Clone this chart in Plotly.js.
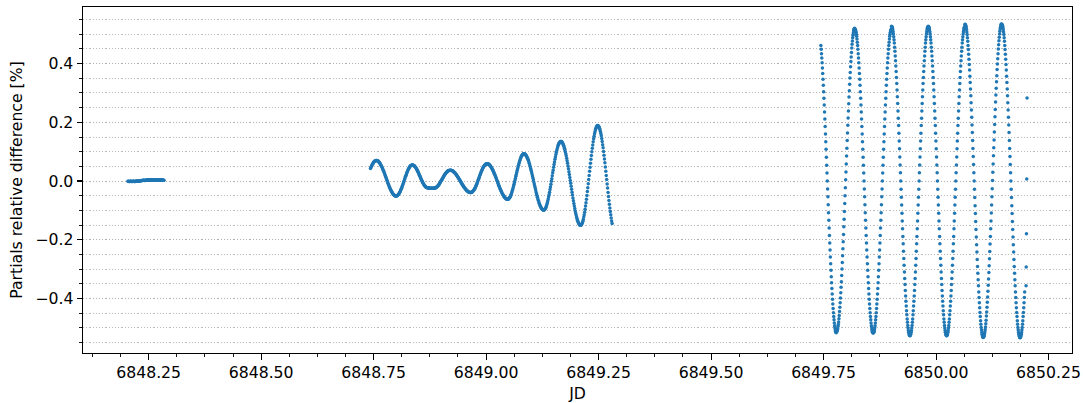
<!DOCTYPE html>
<html>
<head>
<meta charset="utf-8">
<script src="https://cdn.plot.ly/plotly-3.0.1.min.js"></script>
<style>html,body{margin:0;padding:0;background:#fff;}#chart{width:1083px;height:403px;}</style>
</head>
<body>
<div id="chart"></div>
<script>
// ---- data ----
const xTickVals = [6848.25, 6848.5, 6848.75, 6849.0, 6849.25, 6849.5, 6849.75, 6850.0, 6850.25];
const xTickText = ['6848.25','6848.50','6848.75','6849.00','6849.25','6849.50','6849.75','6850.00','6850.25'];
const yTickVals = [-0.4, -0.2, 0, 0.2, 0.4];
const yTickText = ['\u22120.4','\u22120.2','0.0','0.2','0.4'];

// first block (flat, near zero)
const seg1Jd = [
6848.204,6848.205,6848.206,6848.207,6848.208,6848.209,
6848.210,6848.211,6848.212,6848.213,6848.214,6848.215,6848.216,6848.217,6848.218,6848.219,
6848.220,6848.221,6848.222,6848.223,6848.224,6848.225,6848.226,6848.227,6848.228,6848.229,
6848.230,6848.231,6848.232,6848.233,6848.234,6848.235,6848.236,6848.237,6848.238,6848.239,
6848.240,6848.241,6848.242,6848.243,6848.244,6848.245,6848.246,6848.247,6848.248,6848.249,
6848.250,6848.251,6848.252,6848.253,6848.254,6848.255,6848.256,6848.257,6848.258,6848.259,
6848.260,6848.261,6848.262,6848.263,6848.264,6848.265,6848.266,6848.267,6848.268,6848.269,
6848.270,6848.271,6848.272,6848.273,6848.274,6848.275,6848.276,6848.277,6848.278,6848.279,
6848.280,6848.281,6848.282,6848.283,6848.284];
const seg1Diff = [
-.001,-.001,-.002,-.002,-.002,-.001,
-.001,-.001,-.002,-.002,-.002,-.001,-.001,-.001,-.002,-.002,
-.002,-.001,-.001,0,0,-.001,-.001,-.001,-.001,0,
0,.001,.001,.001,.002,.002,.002,.002,.003,.003,
.003,.002,.002,.003,.003,.003,.003,.003,.004,.004,
.004,.003,.003,.003,.003,.004,.004,.004,.003,.003,
.003,.003,.003,.004,.004,.004,.004,.003,.003,.003,
.003,.004,.004,.004,.003,.003,.003,.004,.004,.004,
.004,.003,.003,.003,.003];

// second block (growing oscillation)
const seg2Jd = [
6848.743,6848.744,6848.745,6848.746,6848.747,6848.748,6848.749,
6848.750,6848.751,6848.752,6848.753,6848.754,6848.755,6848.756,6848.757,6848.758,6848.759,
6848.760,6848.761,6848.762,6848.763,6848.764,6848.765,6848.766,6848.767,6848.768,6848.769,
6848.770,6848.771,6848.772,6848.773,6848.774,6848.775,6848.776,6848.777,6848.778,6848.779,
6848.780,6848.781,6848.782,6848.783,6848.784,6848.785,6848.786,6848.787,6848.788,6848.789,
6848.790,6848.791,6848.792,6848.793,6848.794,6848.795,6848.796,6848.797,6848.798,6848.799,
6848.800,6848.801,6848.802,6848.803,6848.804,6848.805,6848.806,6848.807,6848.808,6848.809,
6848.810,6848.811,6848.812,6848.813,6848.814,6848.815,6848.816,6848.817,6848.818,6848.819,
6848.820,6848.821,6848.822,6848.823,6848.824,6848.825,6848.826,6848.827,6848.828,6848.829,
6848.830,6848.831,6848.832,6848.833,6848.834,6848.835,6848.836,6848.837,6848.838,6848.839,
6848.840,6848.841,6848.842,6848.843,6848.844,6848.845,6848.846,6848.847,6848.848,6848.849,
6848.850,6848.851,6848.852,6848.853,6848.854,6848.855,6848.856,6848.857,6848.858,6848.859,
6848.860,6848.861,6848.862,6848.863,6848.864,6848.865,6848.866,6848.867,6848.868,6848.869,
6848.870,6848.871,6848.872,6848.873,6848.874,6848.875,6848.876,6848.877,6848.878,6848.879,
6848.880,6848.881,6848.882,6848.883,6848.884,6848.885,6848.886,6848.887,6848.888,6848.889,
6848.890,6848.891,6848.892,6848.893,6848.894,6848.895,6848.896,6848.897,6848.898,6848.899,
6848.900,6848.901,6848.902,6848.903,6848.904,6848.905,6848.906,6848.907,6848.908,6848.909,
6848.910,6848.911,6848.912,6848.913,6848.914,6848.915,6848.916,6848.917,6848.918,6848.919,
6848.920,6848.921,6848.922,6848.923,6848.924,6848.925,6848.926,6848.927,6848.928,6848.929,
6848.930,6848.931,6848.932,6848.933,6848.934,6848.935,6848.936,6848.937,6848.938,6848.939,
6848.940,6848.941,6848.942,6848.943,6848.944,6848.945,6848.946,6848.947,6848.948,6848.949,
6848.950,6848.951,6848.952,6848.953,6848.954,6848.955,6848.956,6848.957,6848.958,6848.959,
6848.960,6848.961,6848.962,6848.963,6848.964,6848.965,6848.966,6848.967,6848.968,6848.969,
6848.970,6848.971,6848.972,6848.973,6848.974,6848.975,6848.976,6848.977,6848.978,6848.979,
6848.980,6848.981,6848.982,6848.983,6848.984,6848.985,6848.986,6848.987,6848.988,6848.989,
6848.990,6848.991,6848.992,6848.993,6848.994,6848.995,6848.996,6848.997,6848.998,6848.999,
6849.000,6849.001,6849.002,6849.003,6849.004,6849.005,6849.006,6849.007,6849.008,6849.009,
6849.010,6849.011,6849.012,6849.013,6849.014,6849.015,6849.016,6849.017,6849.018,6849.019,
6849.020,6849.021,6849.022,6849.023,6849.024,6849.025,6849.026,6849.027,6849.028,6849.029,
6849.030,6849.031,6849.032,6849.033,6849.034,6849.035,6849.036,6849.037,6849.038,6849.039,
6849.040,6849.041,6849.042,6849.043,6849.044,6849.045,6849.046,6849.047,6849.048,6849.049,
6849.050,6849.051,6849.052,6849.053,6849.054,6849.055,6849.056,6849.057,6849.058,6849.059,
6849.060,6849.061,6849.062,6849.063,6849.064,6849.065,6849.066,6849.067,6849.068,6849.069,
6849.070,6849.071,6849.072,6849.073,6849.074,6849.075,6849.076,6849.077,6849.078,6849.079,
6849.080,6849.081,6849.082,6849.083,6849.084,6849.085,6849.086,6849.087,6849.088,6849.089,
6849.090,6849.091,6849.092,6849.093,6849.094,6849.095,6849.096,6849.097,6849.098,6849.099,
6849.100,6849.101,6849.102,6849.103,6849.104,6849.105,6849.106,6849.107,6849.108,6849.109,
6849.110,6849.111,6849.112,6849.113,6849.114,6849.115,6849.116,6849.117,6849.118,6849.119,
6849.120,6849.121,6849.122,6849.123,6849.124,6849.125,6849.126,6849.127,6849.128,6849.129,
6849.130,6849.131,6849.132,6849.133,6849.134,6849.135,6849.136,6849.137,6849.138,6849.139,
6849.140,6849.141,6849.142,6849.143,6849.144,6849.145,6849.146,6849.147,6849.148,6849.149,
6849.150,6849.151,6849.152,6849.153,6849.154,6849.155,6849.156,6849.157,6849.158,6849.159,
6849.160,6849.161,6849.162,6849.163,6849.164,6849.165,6849.166,6849.167,6849.168,6849.169,
6849.170,6849.171,6849.172,6849.173,6849.174,6849.175,6849.176,6849.177,6849.178,6849.179,
6849.180,6849.181,6849.182,6849.183,6849.184,6849.185,6849.186,6849.187,6849.188,6849.189,
6849.190,6849.191,6849.192,6849.193,6849.194,6849.195,6849.196,6849.197,6849.198,6849.199,
6849.200,6849.201,6849.202,6849.203,6849.204,6849.205,6849.206,6849.207,6849.208,6849.209,
6849.210,6849.211,6849.212,6849.213,6849.214,6849.215,6849.216,6849.217,6849.218,6849.219,
6849.220,6849.221,6849.222,6849.223,6849.224,6849.225,6849.226,6849.227,6849.228,6849.229,
6849.230,6849.231,6849.232,6849.233,6849.234,6849.235,6849.236,6849.237,6849.238,6849.239,
6849.240,6849.241,6849.242,6849.243,6849.244,6849.245,6849.246,6849.247,6849.248,6849.249,
6849.250,6849.251,6849.252,6849.253,6849.254,6849.255,6849.256,6849.257,6849.258,6849.259,
6849.260,6849.261,6849.262,6849.263,6849.264,6849.265,6849.266,6849.267,6849.268,6849.269,
6849.270,6849.271,6849.272,6849.273,6849.274,6849.275,6849.276,6849.277,6849.278,6849.279,
6849.280];
const seg2Diff = [
.043,.046,.050,.053,.056,.059,.061,
.064,.066,.067,.068,.069,.070,.070,.070,.069,.069,
.068,.066,.065,.063,.060,.058,.055,.052,.049,.046,
.042,.038,.035,.031,.027,.022,.018,.014,.010,.005,
.001,-.003,-.008,-.012,-.016,-.020,-.023,-.027,-.030,-.033,
-.036,-.039,-.041,-.044,-.046,-.047,-.049,-.050,-.050,-.051,
-.051,-.051,-.050,-.049,-.048,-.046,-.044,-.041,-.039,-.036,
-.032,-.028,-.025,-.020,-.016,-.012,-.007,-.003,.002,.007,
.011,.016,.020,.024,.029,.032,.036,.040,.043,.045,
.048,.050,.052,.053,.054,.055,.055,.055,.054,.053,
.052,.051,.049,.047,.045,.042,.040,.037,.033,.030,
.027,.023,.020,.016,.012,.009,.005,.002,-.001,-.005,
-.008,-.010,-.013,-.015,-.017,-.019,-.020,-.022,-.022,-.023,
-.023,-.023,-.024,-.024,-.024,-.025,-.025,-.025,-.025,-.025,
-.025,-.025,-.025,-.025,-.025,-.025,-.024,-.024,-.023,-.022,
-.021,-.019,-.018,-.016,-.014,-.012,-.010,-.007,-.005,-.002,
.001,.003,.006,.009,.011,.014,.017,.019,.022,.024,
.026,.028,.030,.031,.033,.034,.035,.036,.036,.037,
.037,.037,.037,.036,.036,.035,.034,.033,.031,.030,
.028,.027,.025,.023,.021,.019,.016,.014,.012,.009,
.007,.004,.002,-.001,-.004,-.006,-.009,-.011,-.014,-.016,
-.019,-.021,-.023,-.025,-.027,-.029,-.031,-.032,-.034,-.035,
-.036,-.037,-.038,-.038,-.039,-.039,-.039,-.039,-.038,-.037,
-.036,-.034,-.032,-.030,-.028,-.025,-.022,-.018,-.015,-.011,
-.007,-.003,.002,.006,.010,.014,.019,.023,.027,.031,
.035,.038,.042,.045,.048,.050,.052,.054,.056,.057,
.058,.059,.059,.059,.058,.058,.057,.056,.054,.052,
.050,.048,.045,.043,.040,.037,.033,.030,.026,.023,
.019,.015,.011,.007,.003,-.002,-.006,-.010,-.014,-.018,
-.022,-.026,-.029,-.033,-.036,-.040,-.043,-.046,-.048,-.051,
-.053,-.055,-.057,-.059,-.060,-.061,-.061,-.062,-.062,-.062,
-.061,-.059,-.057,-.055,-.052,-.048,-.044,-.039,-.034,-.029,
-.023,-.017,-.011,-.005,.002,.009,.016,.022,.029,.036,
.042,.048,.054,.060,.065,.070,.075,.079,.083,.086,
.088,.090,.092,.093,.093,.093,.092,.091,.089,.087,
.084,.081,.078,.074,.070,.065,.060,.055,.049,.043,
.037,.031,.024,.017,.011,.004,-.003,-.010,-.017,-.023,
-.030,-.037,-.043,-.049,-.055,-.061,-.066,-.071,-.076,-.080,
-.084,-.087,-.090,-.093,-.095,-.097,-.098,-.099,-.099,-.099,
-.097,-.095,-.093,-.089,-.085,-.080,-.074,-.068,-.061,-.054,
-.046,-.038,-.029,-.020,-.011,-.001,.008,.018,.028,.037,
.047,.056,.065,.074,.082,.090,.097,.104,.110,.116,
.121,.125,.129,.131,.133,.135,.135,.135,.134,.132,
.129,.126,.122,.118,.112,.107,.100,.093,.086,.078,
.069,.061,.051,.042,.032,.022,.012,.002,-.008,-.018,
-.028,-.038,-.048,-.058,-.067,-.077,-.085,-.094,-.102,-.109,
-.116,-.123,-.128,-.134,-.138,-.142,-.145,-.148,-.150,-.151,
-.151,-.150,-.149,-.146,-.142,-.137,-.131,-.123,-.115,-.106,
-.096,-.085,-.074,-.062,-.049,-.036,-.023,-.009,.005,.019,
.033,.047,.061,.074,.087,.100,.112,.123,.134,.144,
.153,.161,.168,.175,.180,.184,.187,.188,.189,.188,
.187,.184,.180,.175,.169,.162,.154,.145,.135,.124,
.113,.101,.088,.075,.062,.048,.033,.019,.005,-.010,
-.024,-.039,-.053,-.066,-.079,-.092,-.104,-.115,-.126,-.136,
-.145];

// third block (large oscillation, sparser dots)
const seg3Jd = [
6849.744,6849.74468,6849.74536,6849.74604,6849.74672,6849.7474,6849.74808,6849.74876,6849.74944,6849.75012,6849.7508,6849.75148,6849.75216,6849.75284,6849.75352,6849.7542,6849.75488,6849.75556,6849.75624,6849.75692,6849.7576,6849.75828,6849.75896,6849.75964,6849.76032,
6849.761,6849.76168,6849.76236,6849.76304,6849.76372,6849.7644,6849.76508,6849.76576,6849.76644,6849.76712,6849.7678,6849.76848,6849.76916,6849.76984,6849.77052,6849.7712,6849.77188,6849.77256,6849.77324,6849.77392,6849.7746,6849.77528,6849.77596,6849.77664,6849.77732,
6849.778,6849.77868,6849.77936,6849.78004,6849.78072,6849.7814,6849.78208,6849.78276,6849.78344,6849.78412,6849.7848,6849.78548,6849.78616,6849.78684,6849.78752,6849.7882,6849.78888,6849.78956,6849.79024,6849.79092,6849.7916,6849.79228,6849.79296,6849.79364,6849.79432,
6849.795,6849.79568,6849.79636,6849.79704,6849.79772,6849.7984,6849.79908,6849.79976,6849.80044,6849.80112,6849.8018,6849.80248,6849.80316,6849.80384,6849.80452,6849.8052,6849.80588,6849.80656,6849.80724,6849.80792,6849.8086,6849.80928,6849.80996,6849.81064,6849.81132,
6849.812,6849.81268,6849.81336,6849.81404,6849.81472,6849.8154,6849.81608,6849.81676,6849.81744,6849.81812,6849.8188,6849.81948,6849.82016,6849.82084,6849.82152,6849.8222,6849.82288,6849.82356,6849.82424,6849.82492,6849.8256,6849.82628,6849.82696,6849.82764,6849.82832,
6849.829,6849.82968,6849.83036,6849.83104,6849.83172,6849.8324,6849.83308,6849.83376,6849.83444,6849.83512,6849.8358,6849.83648,6849.83716,6849.83784,6849.83852,6849.8392,6849.83988,6849.84056,6849.84124,6849.84192,6849.8426,6849.84328,6849.84396,6849.84464,6849.84532,
6849.846,6849.84668,6849.84736,6849.84804,6849.84872,6849.8494,6849.85008,6849.85076,6849.85144,6849.85212,6849.8528,6849.85348,6849.85416,6849.85484,6849.85552,6849.8562,6849.85688,6849.85756,6849.85824,6849.85892,6849.8596,6849.86028,6849.86096,6849.86164,6849.86232,
6849.863,6849.86368,6849.86436,6849.86504,6849.86572,6849.8664,6849.86708,6849.86776,6849.86844,6849.86912,6849.8698,6849.87048,6849.87116,6849.87184,6849.87252,6849.8732,6849.87388,6849.87456,6849.87524,6849.87592,6849.8766,6849.87728,6849.87796,6849.87864,6849.87932,
6849.88,6849.88068,6849.88136,6849.88204,6849.88272,6849.8834,6849.88408,6849.88476,6849.88544,6849.88612,6849.8868,6849.88748,6849.88816,6849.88884,6849.88952,6849.8902,6849.89088,6849.89156,6849.89224,6849.89292,6849.8936,6849.89428,6849.89496,6849.89564,6849.89632,
6849.897,6849.89768,6849.89836,6849.89904,6849.89972,6849.9004,6849.90108,6849.90176,6849.90244,6849.90312,6849.9038,6849.90448,6849.90516,6849.90584,6849.90652,6849.9072,6849.90788,6849.90856,6849.90924,6849.90992,6849.9106,6849.91128,6849.91196,6849.91264,6849.91332,
6849.914,6849.91468,6849.91536,6849.91604,6849.91672,6849.9174,6849.91808,6849.91876,6849.91944,6849.92012,6849.9208,6849.92148,6849.92216,6849.92284,6849.92352,6849.9242,6849.92488,6849.92556,6849.92624,6849.92692,6849.9276,6849.92828,6849.92896,6849.92964,6849.93032,
6849.931,6849.93168,6849.93236,6849.93304,6849.93372,6849.9344,6849.93508,6849.93576,6849.93644,6849.93712,6849.9378,6849.93848,6849.93916,6849.93984,6849.94052,6849.9412,6849.94188,6849.94256,6849.94324,6849.94392,6849.9446,6849.94528,6849.94596,6849.94664,6849.94732,
6849.948,6849.94868,6849.94936,6849.95004,6849.95072,6849.9514,6849.95208,6849.95276,6849.95344,6849.95412,6849.9548,6849.95548,6849.95616,6849.95684,6849.95752,6849.9582,6849.95888,6849.95956,6849.96024,6849.96092,6849.9616,6849.96228,6849.96296,6849.96364,6849.96432,
6849.965,6849.96568,6849.96636,6849.96704,6849.96772,6849.9684,6849.96908,6849.96976,6849.97044,6849.97112,6849.9718,6849.97248,6849.97316,6849.97384,6849.97452,6849.9752,6849.97588,6849.97656,6849.97724,6849.97792,6849.9786,6849.97928,6849.97996,6849.98064,6849.98132,
6849.982,6849.98268,6849.98336,6849.98404,6849.98472,6849.9854,6849.98608,6849.98676,6849.98744,6849.98812,6849.9888,6849.98948,6849.99016,6849.99084,6849.99152,6849.9922,6849.99288,6849.99356,6849.99424,6849.99492,6849.9956,6849.99628,6849.99696,6849.99764,6849.99832,
6849.999,6849.99968,6850.00036,6850.00104,6850.00172,6850.0024,6850.00308,6850.00376,6850.00444,6850.00512,6850.0058,6850.00648,6850.00716,6850.00784,6850.00852,6850.0092,6850.00988,6850.01056,6850.01124,6850.01192,6850.0126,6850.01328,6850.01396,6850.01464,6850.01532,
6850.016,6850.01668,6850.01736,6850.01804,6850.01872,6850.0194,6850.02008,6850.02076,6850.02144,6850.02212,6850.0228,6850.02348,6850.02416,6850.02484,6850.02552,6850.0262,6850.02688,6850.02756,6850.02824,6850.02892,6850.0296,6850.03028,6850.03096,6850.03164,6850.03232,
6850.033,6850.03368,6850.03436,6850.03504,6850.03572,6850.0364,6850.03708,6850.03776,6850.03844,6850.03912,6850.0398,6850.04048,6850.04116,6850.04184,6850.04252,6850.0432,6850.04388,6850.04456,6850.04524,6850.04592,6850.0466,6850.04728,6850.04796,6850.04864,6850.04932,
6850.05,6850.05068,6850.05136,6850.05204,6850.05272,6850.0534,6850.05408,6850.05476,6850.05544,6850.05612,6850.0568,6850.05748,6850.05816,6850.05884,6850.05952,6850.0602,6850.06088,6850.06156,6850.06224,6850.06292,6850.0636,6850.06428,6850.06496,6850.06564,6850.06632,
6850.067,6850.06768,6850.06836,6850.06904,6850.06972,6850.0704,6850.07108,6850.07176,6850.07244,6850.07312,6850.0738,6850.07448,6850.07516,6850.07584,6850.07652,6850.0772,6850.07788,6850.07856,6850.07924,6850.07992,6850.0806,6850.08128,6850.08196,6850.08264,6850.08332,
6850.084,6850.08468,6850.08536,6850.08604,6850.08672,6850.0874,6850.08808,6850.08876,6850.08944,6850.09012,6850.0908,6850.09148,6850.09216,6850.09284,6850.09352,6850.0942,6850.09488,6850.09556,6850.09624,6850.09692,6850.0976,6850.09828,6850.09896,6850.09964,6850.10032,
6850.101,6850.10168,6850.10236,6850.10304,6850.10372,6850.1044,6850.10508,6850.10576,6850.10644,6850.10712,6850.1078,6850.10848,6850.10916,6850.10984,6850.11052,6850.1112,6850.11188,6850.11256,6850.11324,6850.11392,6850.1146,6850.11528,6850.11596,6850.11664,6850.11732,
6850.118,6850.11868,6850.11936,6850.12004,6850.12072,6850.1214,6850.12208,6850.12276,6850.12344,6850.12412,6850.1248,6850.12548,6850.12616,6850.12684,6850.12752,6850.1282,6850.12888,6850.12956,6850.13024,6850.13092,6850.1316,6850.13228,6850.13296,6850.13364,6850.13432,
6850.135,6850.13568,6850.13636,6850.13704,6850.13772,6850.1384,6850.13908,6850.13976,6850.14044,6850.14112,6850.1418,6850.14248,6850.14316,6850.14384,6850.14452,6850.1452,6850.14588,6850.14656,6850.14724,6850.14792,6850.1486,6850.14928,6850.14996,6850.15064,6850.15132,
6850.152,6850.15268,6850.15336,6850.15404,6850.15472,6850.1554,6850.15608,6850.15676,6850.15744,6850.15812,6850.1588,6850.15948,6850.16016,6850.16084,6850.16152,6850.1622,6850.16288,6850.16356,6850.16424,6850.16492,6850.1656,6850.16628,6850.16696,6850.16764,6850.16832,
6850.169,6850.16968,6850.17036,6850.17104,6850.17172,6850.1724,6850.17308,6850.17376,6850.17444,6850.17512,6850.1758,6850.17648,6850.17716,6850.17784,6850.17852,6850.1792,6850.17988,6850.18056,6850.18124,6850.18192,6850.1826,6850.18328,6850.18396,6850.18464,6850.18532,
6850.186,6850.18668,6850.18736,6850.18804,6850.18872,6850.1894,6850.19008,6850.19076,6850.19144,6850.19212,6850.1928,6850.19348,6850.19416,6850.19484,6850.19552,6850.1962,6850.19688];
const seg3Diff = [
.462,.449,.434,.419,.403,.385,.366,.347,.326,.304,.282,.259,.235,.211,.186,.160,.134,.108,.081,.054,.027,0,-.027,-.054,-.081,-.108,-.134,-.160,-.186,-.211,-.235,-.259,-.282,-.304,-.326,-.347,-.366,-.385,-.403,-.419,-.434,-.449,-.462,-.473,-.484,-.493,-.500,-.507,-.512,-.515,-.517,
-.514,-.513,-.511,-.508,-.503,-.496,-.489,-.480,-.469,-.458,-.445,-.430,-.415,-.399,-.381,-.362,-.343,-.322,-.300,-.278,-.255,-.231,-.207,-.182,-.156,-.130,-.104,-.077,-.050,-.023,.004,.031,.058,.085,.112,.138,.164,.190,.215,.239,.263,.286,.308,.330,.351,.370,.389,.407,.423,.438,.453,.466,.477,.488,.497,.504,.511,.516,.519,.521,
.518,.517,.515,.512,.507,.500,.493,.484,.473,.462,.449,.434,.419,.403,.385,.366,.347,.326,.304,.282,.259,.235,.211,.186,.160,.134,.108,.081,.054,.027,0,-.027,-.054,-.081,-.108,-.134,-.160,-.186,-.211,-.235,-.259,-.282,-.304,-.326,-.347,-.366,-.385,-.403,-.419,-.434,-.449,-.462,-.473,-.484,-.493,-.500,-.507,-.512,-.515,-.517,
-.518,-.517,-.515,-.512,-.507,-.500,-.493,-.484,-.473,-.462,-.449,-.434,-.419,-.403,-.385,-.366,-.347,-.326,-.304,-.282,-.259,-.235,-.211,-.186,-.160,-.134,-.108,-.081,-.054,-.027,0,.027,.054,.081,.108,.134,.160,.186,.211,.235,.259,.282,.304,.326,.347,.366,.385,.403,.419,.434,.449,.462,.473,.484,.493,.500,.507,.512,.515,.517,
.527,.526,.524,.521,.515,.509,.501,.492,.481,.470,.456,.442,.426,.410,.392,.373,.353,.332,.310,.287,.264,.239,.214,.189,.163,.136,.110,.082,.055,.028,0,-.028,-.055,-.082,-.110,-.136,-.163,-.189,-.214,-.239,-.264,-.287,-.310,-.332,-.353,-.373,-.392,-.410,-.426,-.442,-.456,-.470,-.481,-.492,-.501,-.509,-.515,-.521,-.524,-.526,
-.527,-.526,-.524,-.521,-.515,-.509,-.501,-.492,-.481,-.470,-.456,-.442,-.426,-.410,-.392,-.373,-.353,-.332,-.310,-.287,-.264,-.239,-.214,-.189,-.163,-.136,-.110,-.082,-.055,-.028,0,.028,.055,.082,.110,.136,.163,.189,.214,.239,.264,.287,.310,.332,.353,.373,.392,.410,.426,.442,.456,.470,.481,.492,.501,.509,.515,.521,.524,.526,
.527,.526,.524,.521,.515,.509,.501,.492,.481,.470,.456,.442,.426,.410,.392,.373,.353,.332,.310,.287,.264,.239,.214,.189,.163,.136,.110,.082,.055,.028,0,-.028,-.055,-.082,-.110,-.136,-.163,-.189,-.214,-.239,-.264,-.287,-.310,-.332,-.353,-.373,-.392,-.410,-.426,-.442,-.456,-.470,-.481,-.492,-.501,-.509,-.515,-.521,-.524,-.526,
-.527,-.526,-.524,-.521,-.515,-.509,-.501,-.492,-.481,-.470,-.456,-.442,-.426,-.410,-.392,-.373,-.353,-.332,-.310,-.287,-.264,-.239,-.214,-.189,-.163,-.136,-.110,-.082,-.055,-.028,0,.028,.055,.082,.110,.136,.163,.189,.214,.239,.264,.287,.310,.332,.353,.373,.392,.410,.426,.442,.456,.470,.481,.492,.501,.509,.515,.521,.524,.526,
.534,.533,.531,.527,.522,.516,.508,.499,.488,.476,.462,.448,.432,.415,.397,.378,.357,.336,.314,.291,.267,.242,.217,.191,.165,.138,.111,.084,.056,.028,0,-.028,-.056,-.084,-.111,-.138,-.165,-.191,-.217,-.242,-.267,-.291,-.314,-.336,-.357,-.378,-.397,-.415,-.432,-.448,-.462,-.476,-.488,-.499,-.508,-.516,-.522,-.527,-.531,-.533,
-.532,-.531,-.529,-.525,-.520,-.514,-.506,-.497,-.486,-.474,-.460,-.446,-.430,-.413,-.395,-.376,-.355,-.334,-.312,-.289,-.265,-.240,-.215,-.189,-.163,-.136,-.109,-.082,-.054,-.026,.002,.030,.058,.086,.113,.140,.167,.193,.219,.244,.269,.293,.316,.338,.359,.380,.399,.417,.434,.450,.464,.478,.490,.501,.510,.518,.524,.529,.533,.535,
.534,.533,.531,.527,.522,.516,.508,.499,.488,.476,.462,.448,.432,.415,.397,.378,.357,.336,.314,.291,.267,.242,.217,.191,.165,.138,.111,.084,.056,.028,0,-.028,-.056,-.084,-.111,-.138,-.165,-.191,-.217,-.242,-.267,-.291,-.314,-.336,-.357,-.378,-.397,-.415,-.432,-.448,-.462,-.476,-.488,-.499,-.508,-.516,-.522,-.527,-.531,-.533,
-.534,-.533,-.531,-.527,-.522,-.516,-.508,-.499,-.488,-.476,-.462,-.448,-.432,-.415,-.397,-.378];

// last isolated points at the very end
const tailJd = [6850.2000, 6850.2003, 6850.2009, 6850.2015, 6850.2022];
const tailDiff = [-.357, -.293, -.180, .007, .283];

// ---- drawing ----
const dotColor = '#1f77b4';
function dots(x, y) {
  return {x: x, y: y, type: 'scatter', mode: 'markers', hoverinfo: 'skip',
          marker: {color: dotColor, size: 3.5, line: {width: 0}}};
}
const traces = [dots(seg1Jd, seg1Diff), dots(seg2Jd, seg2Diff), dots(seg3Jd, seg3Diff), dots(tailJd, tailDiff)];

const gridColor = '#b0b0b0';
const gridDash = '1.2px,2px';
const txt = {family: 'DejaVu Sans', size: 15.7, color: '#000'};
const layout = {
  width: 1083, height: 403,
  margin: {l: 83, r: 11, t: 7, b: 50, pad: 0},
  paper_bgcolor: '#ffffff', plot_bgcolor: '#ffffff',
  showlegend: false,
  font: txt,
  xaxis: {
    range: [6848.1041, 6850.3021],
    tickmode: 'array', tickvals: xTickVals, ticktext: xTickText,
    ticks: 'outside', ticklen: 5.4, tickwidth: 1.1, tickcolor: '#000',
    minor: {tick0: 6848.25, dtick: 0.0625, ticks: 'outside', ticklen: 3, tickwidth: 0.9, tickcolor: '#000', showgrid: false},
    showgrid: false, zeroline: false,
    showline: true, linecolor: '#000', linewidth: 1.1, mirror: true,
    tickfont: txt,
    title: {text: 'JD', font: txt, standoff: 7}
  },
  yaxis: {
    range: [-0.586, 0.593],
    tickmode: 'array', tickvals: yTickVals, ticktext: yTickText,
    ticks: 'outside', ticklen: 5.4, tickwidth: 1.1, tickcolor: '#000',
    showgrid: true, gridcolor: gridColor, gridwidth: 0.9, griddash: gridDash,
    minor: {tick0: 0, dtick: 0.05, ticks: 'outside', ticklen: 3, tickwidth: 0.9, tickcolor: '#000',
            showgrid: true, gridcolor: gridColor, gridwidth: 0.9, griddash: gridDash},
    zeroline: false,
    showline: true, linecolor: '#000', linewidth: 1.1, mirror: true,
    tickfont: txt,
    title: {text: 'Partials relative difference [%]', font: txt, standoff: 8}
  }
};
Plotly.newPlot('chart', traces, layout, {displayModeBar: false, staticPlot: true});
</script>
</body>
</html>
